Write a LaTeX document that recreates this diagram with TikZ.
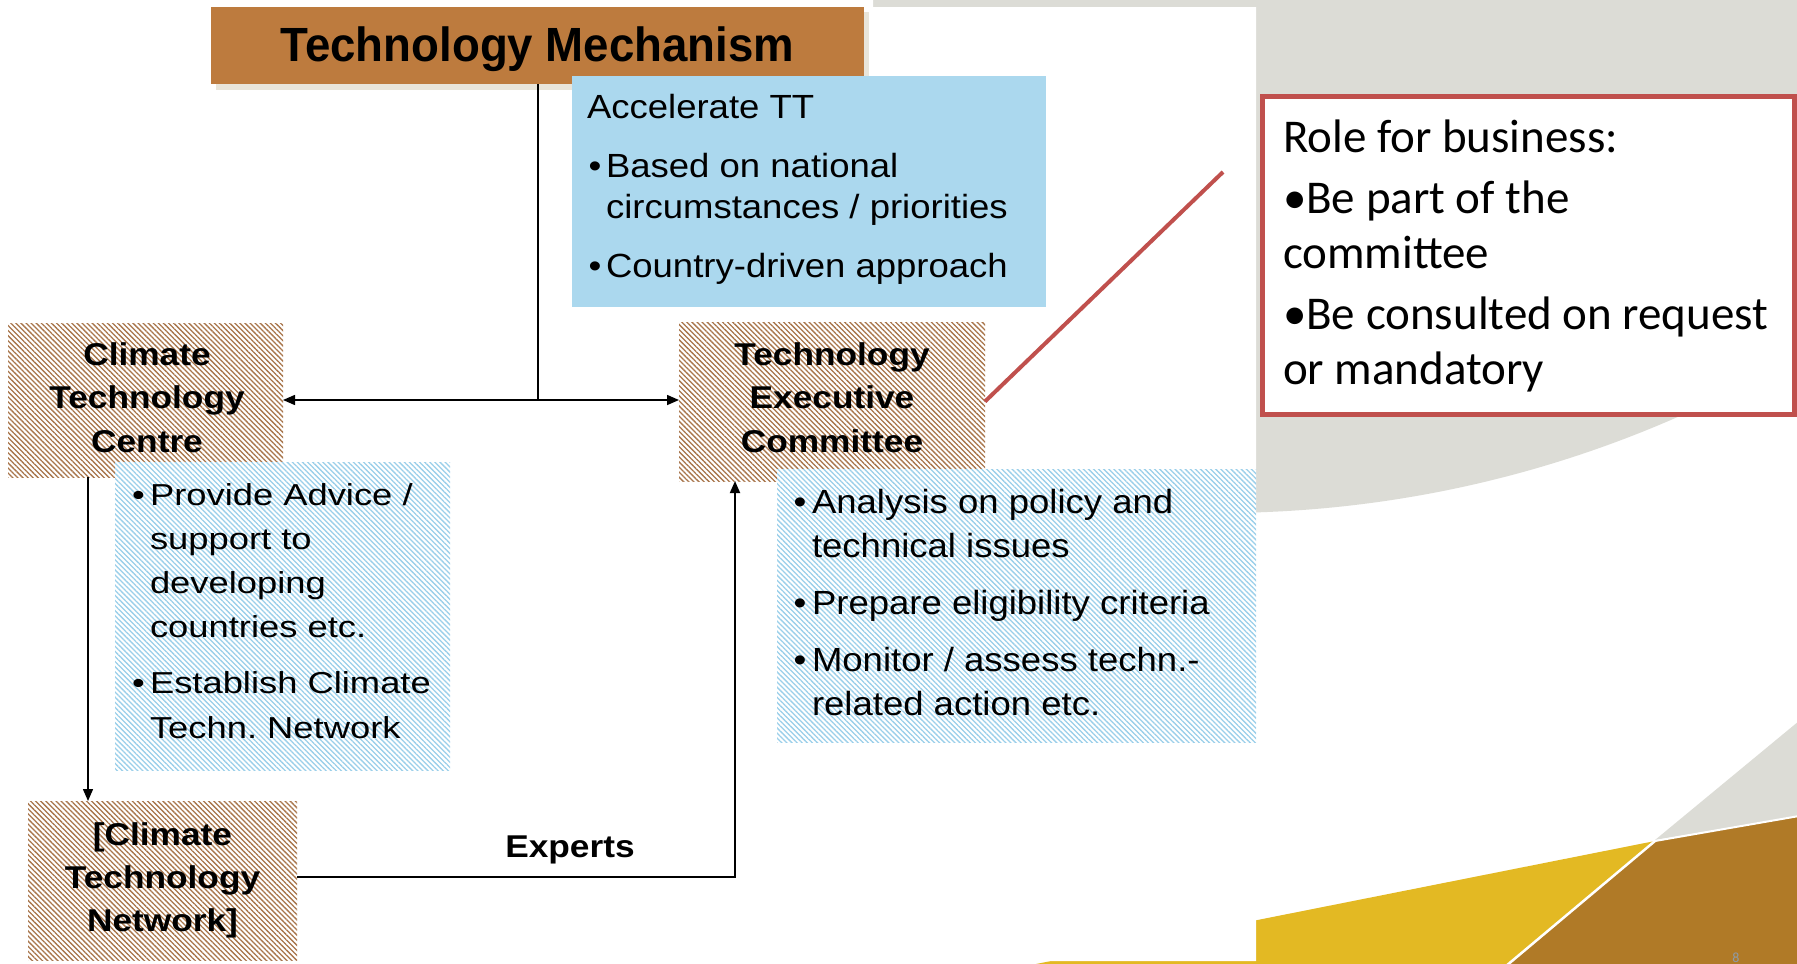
\documentclass[tikz,border=0pt]{standalone}
\usepackage{fontspec}
\setmainfont{Liberation Sans}
\newfontfamily\fA[FakeStretch=1.09]{Liberation Sans}
\newfontfamily\fB[FakeStretch=1.2]{Liberation Sans}
\newfontfamily\fC[FakeStretch=1.12]{Liberation Sans}
\newfontfamily\fT[FakeStretch=0.95]{Liberation Sans}
\newfontfamily\fR{Carlito}
\frenchspacing
\usetikzlibrary{patterns.meta,arrows.meta}
\definecolor{tmfill}{HTML}{BD7B3E}
\definecolor{tmshadow}{HTML}{E9E5DA}
\definecolor{accblue}{HTML}{ABD8EE}
\definecolor{hbrown}{HTML}{A8754A}
\definecolor{hblue}{HTML}{9ACFEA}
\definecolor{redc}{HTML}{C0504D}
\definecolor{bggray}{HTML}{DCDCD6}
\definecolor{ylw}{HTML}{E3B923}
\definecolor{brn}{HTML}{B07A27}
\definecolor{numgray}{HTML}{8E9BA8}
\begin{document}
\frenchspacing
\begin{tikzpicture}[x=1pt,y=-1pt,
  box/.style={rectangle, inner sep=0pt, outer sep=0pt},
  brownhatch/.style={box, preaction={fill=white}, pattern={Lines[angle=-45,distance=3.6pt,line width=1.3pt]}, pattern color=hbrown},
  bluehatch/.style={box, preaction={fill=white}, pattern={Lines[angle=-45,distance=3.6pt,line width=1.3pt]}, pattern color=hblue},
  txt/.style={inner sep=0pt, outer sep=0pt},
  conn/.style={line width=1.5pt, black},
  arr/.style={conn, -{Triangle[length=12pt,width=10pt]}},
  darr/.style={conn, {Triangle[length=12pt,width=10pt]}-{Triangle[length=12pt,width=10pt]}},
  fa/.style={font=\fA\fontsize{33.5}{41}\selectfont},
  fb/.style={font=\fB\fontsize{30.3}{44}\selectfont},
  lbl/.style={txt, anchor=base}
]
\useasboundingbox (0,0) rectangle (1797,964);
% slide background
\fill[white] (0,0) rectangle (1797,964);
\fill[bggray] (1219,-627) circle[radius=1140pt];
% bottom-right decoration
\fill[ylw] (1655,841) -- (1026,966) -- (1508,966) -- cycle;
\fill[brn] (1655,841) -- (1799,816) -- (1799,966) -- (1508,966) -- cycle;
\fill[bggray] (1655,840) -- (1799,721) -- (1799,816) -- cycle;
\draw[white, line width=2.5pt] (1655,841) -- (1506,966);
\draw[white, line width=2pt] (1655,841) -- (1799,816);
\node[txt, anchor=base, text=numgray] (pg) at (1736,962) {\fR\fontsize{14}{16}\selectfont 8};
% white panel
\fill[white] (0,0) -- (873,0) -- (873,7) -- (1256,7) -- (1256,961) -- (0,961) -- cycle;

% title
\fill[tmshadow] (216,12) rectangle (869,90);
\node[box, fill=tmfill, minimum width=653pt, minimum height=77pt] (tm) at (537.5,45.5) {};
\node[lbl] (tmL) at (537.5,61) {\fT\bfseries\fontsize{48}{56}\selectfont Technology Mechanism};

% accelerate box
\node[box, fill=accblue, minimum width=474pt, minimum height=231pt] (acc) at (809,191.5) {};
\node[txt, anchor=base west, fa] (accT) at (587,118) {Accelerate TT};
\node[lbl, fa] (accB1) at (595,177) {•};
\node[txt, anchor=base west] (accI1) at (606,177) {\parbox[t]{460pt}{\fA\fontsize{33.5}{41}\selectfont Based on national\\circumstances / priorities}};
\node[lbl, fa] (accB2) at (595,277) {•};
\node[txt, anchor=base west, fa] (accI2) at (606,277) {Country-driven approach};

% hatched boxes
\node[brownhatch, minimum width=275pt, minimum height=154pt] (ctc) at (145.5,400) {};
\node[brownhatch, minimum width=306pt, minimum height=159pt] (tec) at (832,401.5) {};
\node[brownhatch, minimum width=269pt, minimum height=159pt] (ctn) at (162.5,880.5) {};
\node[lbl] (ctcL) at (147,365) {\parbox[t]{260pt}{\centering\fC\bfseries\fontsize{31.5}{43.5}\selectfont Climate\\Technology\\Centre}};
\node[lbl] (tecL) at (832,365) {\parbox[t]{290pt}{\centering\fC\bfseries\fontsize{31.5}{43.5}\selectfont Technology\\Executive\\Committee}};
\node[lbl] (ctnL) at (162.5,845) {\parbox[t]{260pt}{\centering\fC\bfseries\fontsize{31.5}{43}\selectfont [Climate\\Technology\\Network]}};

% blue hatched boxes
\node[bluehatch, minimum width=335pt, minimum height=308pt] (ctcB) at (282.5,616) {};
\node[lbl, fb] (cb1) at (138.5,505) {•};
\node[txt, anchor=base west] (ci1) at (150,505) {\parbox[t]{300pt}{\frenchspacing\fB\fontsize{30.3}{44}\selectfont Provide Advice /\\support to\\developing\\countries etc.}};
\node[lbl, fb] (cb2) at (138.5,693) {•};
\node[txt, anchor=base west] (ci2) at (150,693) {\parbox[t]{300pt}{\frenchspacing\fB\fontsize{30.3}{45}\selectfont Establish Climate\\Techn. Network}};

\node[bluehatch, minimum width=479pt, minimum height=273pt] (tecB) at (1016.5,605.5) {};
\node[lbl, fa] (tb1) at (800,513) {•};
\node[txt, anchor=base west] (ti1) at (812,513) {\parbox[t]{440pt}{\fA\fontsize{33.5}{44}\selectfont Analysis on policy and\\technical issues}};
\node[lbl, fa] (tb2) at (800,614) {•};
\node[txt, anchor=base west, fa] (ti2) at (812,614) {Prepare eligibility criteria};
\node[lbl, fa] (tb3) at (800,671) {•};
\node[txt, anchor=base west] (ti3) at (812,671) {\parbox[t]{440pt}{\frenchspacing\fA\fontsize{33.5}{44}\selectfont Monitor / assess techn.-\\related action etc.}};

% role box
\node[box, draw=redc, line width=5pt, fill=white, minimum width=532pt, minimum height=318pt] (role) at (1528,255) {};
\node[txt, anchor=base west] (roleT) at (1283,152) {\parbox[t]{510pt}{\fR\fontsize{47}{55}\selectfont Role for business:\\[6pt]•Be part of the\\committee\\[6pt]•Be consulted on request\\or mandatory}};

% connectors
\coordinate (j) at (538,400);
\coordinate (vx) at (88,0);
\coordinate (ex) at (735,877);
\coordinate (rl) at (1223,172);
\draw[conn] (j |- tm.south) -- (j);
\draw[darr] (ctc.east |- j) -- (tec.west |- j);
\draw[arr] (vx |- ctc.south) -- (vx |- ctn.north);
\draw[arr, line width=1.8pt] (ctn.east |- ex) -- (ex) -- (ex |- tec.south);
\node[lbl] (exL) at (570,857) {\fC\bfseries\fontsize{31.5}{38}\selectfont Experts};
\draw[redc, line width=4pt] (tec.east) -- (rl);
\end{tikzpicture}
\end{document}
